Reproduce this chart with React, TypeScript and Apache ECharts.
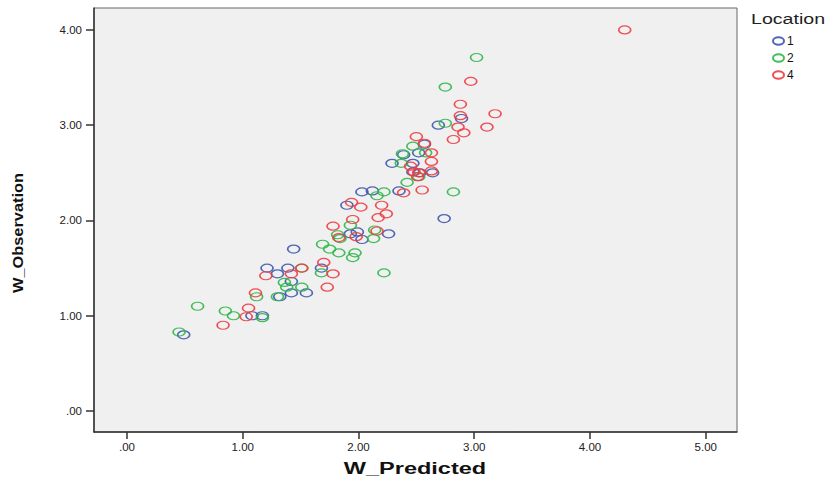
import React, { useEffect, useRef } from "react";
import * as echarts from "echarts";

const xTicks = [0, 1, 2, 3, 4, 5];
const yTicks = [0, 1, 2, 3, 4];
const locations = ["1", "2", "4"];

const loc1: number[][] = [
  [2.89, 3.07], [2.69, 3.0], [2.57, 2.8], [2.39, 2.69], [2.52, 2.71], [2.29, 2.6],
  [2.47, 2.6], [2.47, 2.51], [2.64, 2.5], [2.53, 2.5], [2.12, 2.31], [2.35, 2.31],
  [2.03, 2.3], [1.9, 2.16], [1.93, 1.86], [1.99, 1.88], [2.03, 1.8], [2.26, 1.86],
  [2.74, 2.02], [1.44, 1.7], [1.21, 1.5], [1.3, 1.44], [1.39, 1.5], [1.68, 1.5],
  [1.42, 1.36], [1.42, 1.24], [1.55, 1.24], [1.32, 1.2], [1.08, 1.0], [1.17, 1.0],
  [0.49, 0.8],
];

const loc2: number[][] = [
  [3.02, 3.71], [2.75, 3.4], [2.75, 3.02], [2.47, 2.78], [2.38, 2.7], [2.58, 2.71],
  [2.37, 2.6], [2.52, 2.46], [2.42, 2.4], [2.82, 2.3], [2.22, 2.3], [2.16, 2.26],
  [1.93, 1.95], [1.82, 1.85], [1.84, 1.81], [2.14, 1.9], [2.13, 1.81], [1.69, 1.75],
  [1.75, 1.7], [1.83, 1.66], [1.97, 1.66], [1.95, 1.61], [1.68, 1.45], [2.22, 1.45],
  [1.51, 1.5], [1.36, 1.35], [1.38, 1.3], [1.51, 1.3], [1.12, 1.2], [1.3, 1.2],
  [0.85, 1.05], [0.92, 1.0], [1.17, 0.98], [0.61, 1.1], [0.45, 0.83],
];

const loc4: number[][] = [
  [4.3, 4.0], [2.97, 3.46], [2.88, 3.22], [2.88, 3.1], [3.18, 3.12], [2.86, 2.98],
  [3.11, 2.98], [2.91, 2.92], [2.82, 2.85], [2.5, 2.88], [2.57, 2.81], [2.63, 2.71],
  [2.63, 2.62], [2.45, 2.57], [2.48, 2.51], [2.52, 2.5], [2.63, 2.52], [2.51, 2.46],
  [2.55, 2.32], [2.39, 2.29], [1.94, 2.19], [2.02, 2.14], [2.2, 2.16], [2.24, 2.07],
  [2.17, 2.03], [1.95, 2.01], [1.78, 1.94], [1.83, 1.82], [1.98, 1.83], [2.16, 1.89],
  [1.7, 1.56], [1.78, 1.44], [1.73, 1.3], [1.42, 1.44], [1.51, 1.5], [1.2, 1.42],
  [1.11, 1.24], [1.05, 1.08], [1.03, 0.99], [0.83, 0.9],
];

const colors = ["#3e58ac", "#2eb848", "#ee3d42"];
const ellipse = "path://M0,4A6,4 0 1 1 12,4A6,4 0 1 1 0,4Z";

const fmt = (v: number) => (v === 0 ? ".00" : v.toFixed(2));

export default function App() {
  const ref = useRef<HTMLDivElement>(null);
  useEffect(() => {
    if (!ref.current) return;
    const chart = echarts.init(ref.current, undefined, { renderer: "svg" });
    const series = [loc1, loc2, loc4].map((d, i) => ({
      name: locations[i],
      type: "scatter",
      data: d,
      symbol: ellipse,
      symbolSize: [12, 8],
      itemStyle: {
        color: "transparent",
        borderColor: colors[i],
        borderWidth: 1.4,
        opacity: 0.9,
      },
    }));
    chart.setOption({
      animation: false,
      backgroundColor: "#ffffff",
      grid: {
        left: 94,
        top: 8,
        right: 93,
        bottom: 46,
        show: true,
        backgroundColor: "#f0f0f0",
        borderColor: "#666",
        borderWidth: 1,
      },
      xAxis: {
        type: "value",
        min: -0.285,
        max: 5.27,
        splitLine: { show: false },
        axisLine: { onZero: false, lineStyle: { color: "#333", width: 1.5 } },
        axisTick: { customValues: xTicks, length: 7, lineStyle: { color: "#333", width: 1.5 } },
        axisLabel: {
          customValues: xTicks,
          formatter: fmt,
          color: "#222",
          fontSize: 11.5,
          fontFamily: "Liberation Sans, Arial, sans-serif",
          margin: 9,
        },
      },
      yAxis: {
        type: "value",
        min: -0.22,
        max: 4.23,
        splitLine: { show: false },
        axisLine: { onZero: false, lineStyle: { color: "#333", width: 1.5 } },
        axisTick: { customValues: yTicks, length: 8, lineStyle: { color: "#333", width: 1.5 } },
        axisLabel: {
          customValues: yTicks,
          formatter: fmt,
          color: "#222",
          fontSize: 11.5,
          fontFamily: "Liberation Sans, Arial, sans-serif",
          margin: 12,
        },
      },
      legend: {
        orient: "vertical",
        left: 772,
        top: 35,
        itemWidth: 11,
        itemHeight: 8,
        itemGap: 5,
        padding: 0,
        data: locations.map((n) => ({ name: n, icon: ellipse })),
        textStyle: {
          color: "#111",
          fontSize: 12,
          fontFamily: "Liberation Sans, Arial, sans-serif",
          padding: [0, 0, 0, -2],
        },
      },
      graphic: [
        {
          type: "text",
          x: 415,
          y: 468,
          scaleX: 1.47,
          style: {
            text: "W_Predicted",
            textAlign: "center",
            textVerticalAlign: "middle",
            font: "bold 16px 'Liberation Sans', Arial, sans-serif",
            fill: "#111",
          },
        },
        {
          type: "text",
          x: 18,
          y: 233,
          rotation: Math.PI / 2,
          scaleX: 1.09,
          style: {
            text: "W_Observation",
            textAlign: "center",
            textVerticalAlign: "middle",
            font: "bold 15px 'Liberation Sans', Arial, sans-serif",
            fill: "#111",
          },
        },
        {
          type: "text",
          x: 751,
          y: 19,
          scaleX: 1.4,
          style: {
            text: "Location",
            textAlign: "left",
            textVerticalAlign: "middle",
            font: "14px 'Liberation Sans', Arial, sans-serif",
            fill: "#222",
          },
        },
      ],
      series,
    });
    return () => chart.dispose();
  }, []);
  return (
    <div
      ref={ref}
      style={{ position: "fixed", left: 0, top: 0, width: 830, height: 478 }}
    />
  );
}
